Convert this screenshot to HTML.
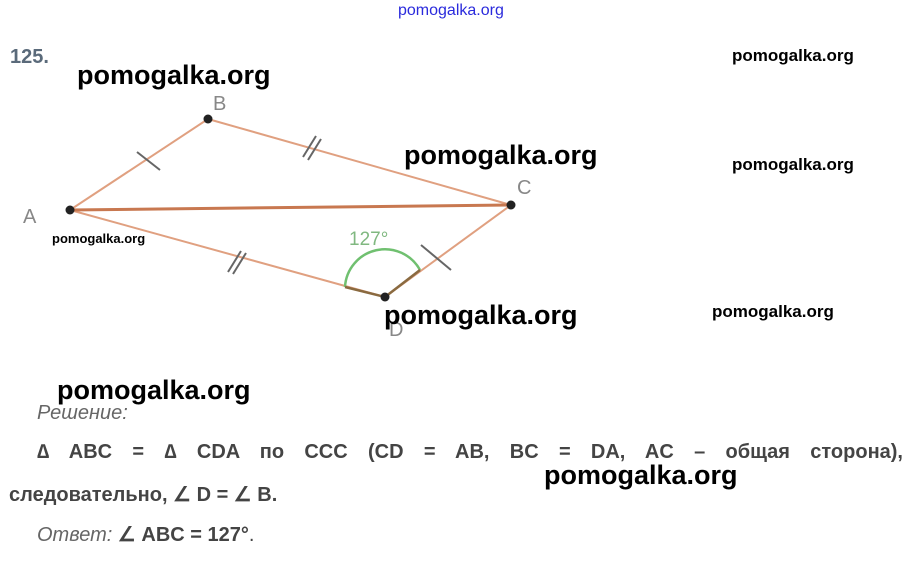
<!DOCTYPE html>
<html><head><meta charset="utf-8"><style>
body{margin:0;width:913px;height:561px;background:#fff;position:relative;overflow:hidden;font-family:"Liberation Sans",sans-serif}
.a{position:absolute;white-space:nowrap}
.w{font-weight:bold;color:#000}
.t{color:#444;font-size:20px}
</style></head><body>
<div class="a" style="left:398px;top:2px;font-size:16px;color:#2a2adc;">pomogalka.org</div>
<div class="a" style="left:10px;top:46px;font-size:20px;font-weight:bold;color:#5a6a7a">125.</div>
<svg class="a" style="left:0;top:0" width="913" height="561">
<g stroke="#e0a080" stroke-width="2" fill="none">
<line x1="70" y1="210" x2="208" y2="119"/>
<line x1="208" y1="119" x2="511" y2="205"/>
<line x1="70" y1="210" x2="385" y2="297"/>
<line x1="385" y1="297" x2="511" y2="205"/>
</g>
<line x1="70" y1="210" x2="511" y2="205" stroke="#c87850" stroke-width="3"/>
<g stroke="#666" stroke-width="2">
<line x1="137" y1="152" x2="160" y2="170"/>
<line x1="267" y1="145" x2="280" y2="124" transform="translate(36,12)"/>
<line x1="272" y1="148" x2="285" y2="127" transform="translate(36,12)"/>
<line x1="200" y1="272" x2="213" y2="251" transform="translate(28,0)"/>
<line x1="205" y1="274" x2="218" y2="253" transform="translate(28,0)"/>
<line x1="426" y1="245" x2="456" y2="270" transform="translate(-5,0)"/>
</g>
<path d="M345 287 A40 40 0 0 1 420 270" stroke="#70c070" stroke-width="2.5" fill="none"/>
<line x1="345" y1="287" x2="385" y2="297" stroke="#8a6a40" stroke-width="2.5"/>
<line x1="385" y1="297" x2="420" y2="270" stroke="#8a6a40" stroke-width="2.5"/>
<g fill="#222"><circle cx="70" cy="210" r="4.5"/><circle cx="208" cy="119" r="4.5"/><circle cx="511" cy="205" r="4.5"/><circle cx="385" cy="297" r="4.5"/></g>
<g fill="#888" font-size="20" font-family="Liberation Sans"><text x="23" y="223">A</text><text x="213" y="110">B</text><text x="517" y="194">C</text><text x="389" y="336">D</text></g>
<text x="349" y="245" fill="#80b880" font-size="19" font-family="Liberation Sans">127°</text>
</svg>
<div class="a w" style="left:77px;top:60px;font-size:27px">pomogalka.org</div>
<div class="a w" style="left:404px;top:140px;font-size:27px">pomogalka.org</div>
<div class="a w" style="left:384px;top:300px;font-size:27px">pomogalka.org</div>
<div class="a w" style="left:57px;top:375px;font-size:27px">pomogalka.org</div>
<div class="a w" style="left:544px;top:460px;font-size:27px">pomogalka.org</div>
<div class="a w" style="left:732px;top:46px;font-size:17px">pomogalka.org</div>
<div class="a w" style="left:732px;top:155px;font-size:17px">pomogalka.org</div>
<div class="a w" style="left:712px;top:302px;font-size:17px">pomogalka.org</div>
<div class="a w" style="left:52px;top:231px;font-size:13px">pomogalka.org</div>
<div class="a t" style="left:37px;top:402px;font-style:italic;color:#666">Решение:</div>
<div class="a t" style="left:37px;top:441px;width:866px;font-weight:bold;text-align:justify;text-align-last:justify;word-spacing:2px">∆ ABC = ∆ CDA по CCC (CD = AB, BC = DA, AC – общая сторона),</div>
<div class="a t" style="left:9px;top:482px;font-weight:bold">следовательно, ∠ D = ∠ B.</div>
<div class="a t" style="left:37px;top:522px"><i style="color:#666">Ответ:</i> <b>∠ ABC = 127°</b>.</div>
</body></html>
